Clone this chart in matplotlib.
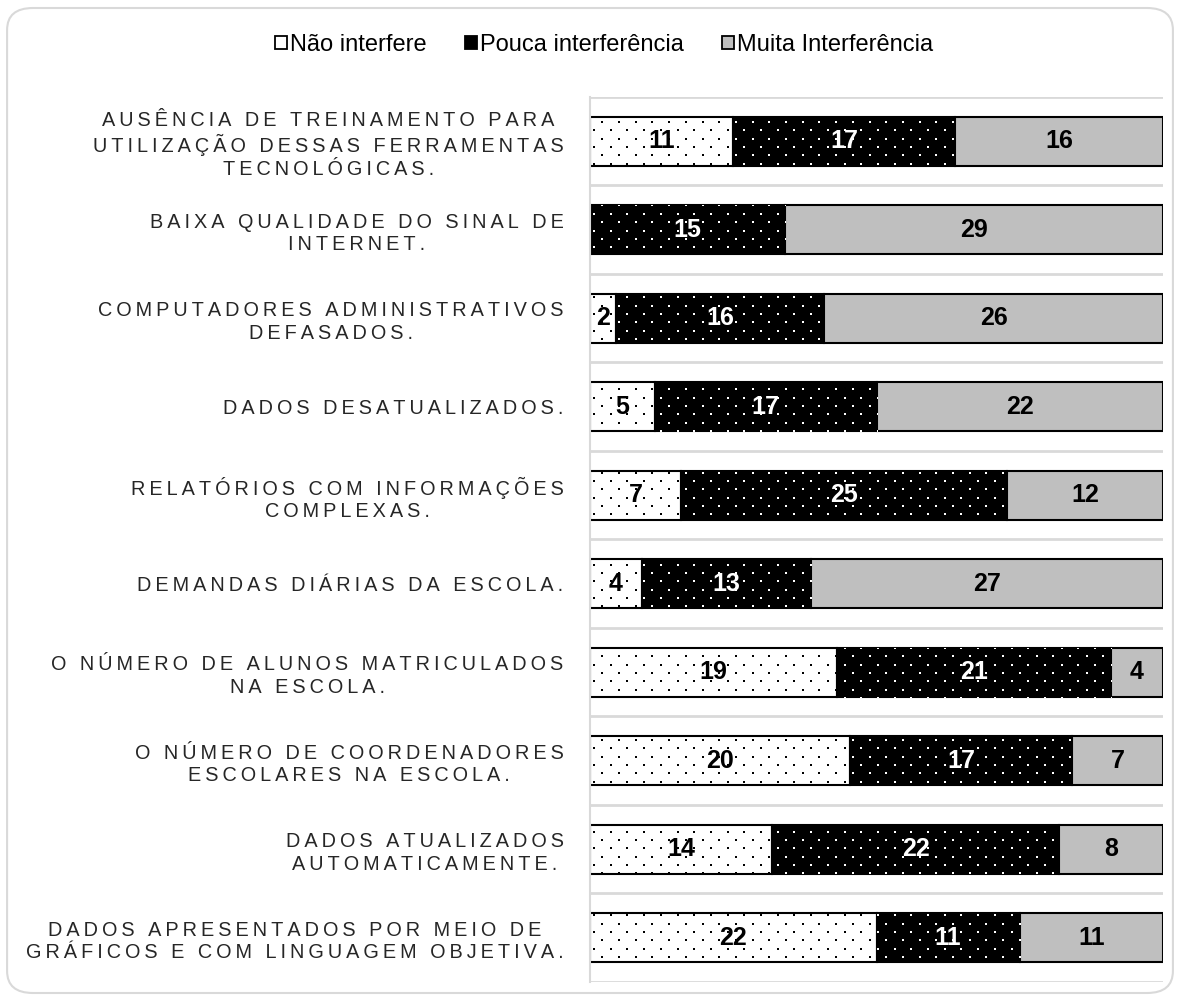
import numpy as np
import matplotlib.pyplot as plt
from matplotlib.patches import Patch, FancyBboxPatch

plt.rcParams['font.family'] = ['Liberation Sans', 'DejaVu Sans']

categorias = [
    'AUSÊNCIA DE TREINAMENTO PARA\nUTILIZAÇÃO DESSAS FERRAMENTAS\nTECNOLÓGICAS.',
    'BAIXA QUALIDADE DO SINAL DE\nINTERNET.',
    'COMPUTADORES ADMINISTRATIVOS\nDEFASADOS.',
    'DADOS DESATUALIZADOS.',
    'RELATÓRIOS COM INFORMAÇÕES\nCOMPLEXAS.',
    'DEMANDAS DIÁRIAS DA ESCOLA.',
    'O NÚMERO DE ALUNOS MATRICULADOS\nNA ESCOLA.',
    'O NÚMERO DE COORDENADORES\nESCOLARES NA ESCOLA.',
    'DADOS ATUALIZADOS\nAUTOMATICAMENTE.',
    'DADOS APRESENTADOS POR MEIO DE\nGRÁFICOS E COM LINGUAGEM OBJETIVA.',
]
nao_interfere = [11, 0, 2, 5, 7, 4, 19, 20, 14, 22]
pouca = [17, 15, 16, 17, 25, 13, 21, 17, 22, 11]
muita = [16, 29, 26, 22, 12, 27, 4, 7, 8, 11]
series = ['Não interfere', 'Pouca interferência', 'Muita Interferência']


def espacar(txt):
    # simula o espaçamento entre letras
    return '\n'.join('\u2009'.join(linha) for linha in txt.split('\n'))


fig = plt.figure(figsize=(11.8, 10), dpi=100)
borda = FancyBboxPatch((0.006, 0.007), 0.988, 0.985, boxstyle='round,pad=0,rounding_size=0.022',
                       transform=fig.transFigure, facecolor='none', edgecolor='#d9d9d9', lw=1.5,
                       zorder=-1)
fig.patches.append(borda)

ax = fig.add_axes([0.5, 0.018, 0.4856, 0.885])
y = np.arange(len(categorias))
h = 0.55

# textura pontilhada (pontos a cada ~17px, linhas alternadas a ~8px)
larg_px, alt_px = 0.4856 * 1180, 0.885 * 1000
pts = []
for i, yy in enumerate(np.arange(0, alt_px, 8.35)):
    xx = np.arange(4 + (8.35 if i % 2 else 0), larg_px, 16.7)
    pts += [(x / larg_px, yy / alt_px) for x in xx]
pts = np.array(pts)

esq = np.zeros(len(categorias))
estilos = [('white', 'black'), ('black', 'white'), ('#bfbfbf', None)]
cores_txt = ['black', 'white', 'black']
for vals, (fc, cor_ponto), ct in zip([nao_interfere, pouca, muita], estilos, cores_txt):
    vals = np.array(vals)
    barras = ax.barh(y, vals, left=esq, height=h, color=fc, edgecolor='black', lw=1.5, zorder=2)
    if cor_ponto:
        for b in barras:
            if b.get_width() > 0:
                sc = ax.scatter(pts[:, 0], pts[:, 1], s=2.2, marker='s', color=cor_ponto,
                                linewidths=0, transform=ax.transAxes, zorder=2.5)
                sc.set_clip_path(b)
    for yi, v, l in zip(y, vals, esq):
        if v > 0:
            ax.text(l + v / 2, yi, str(v), ha='center', va='center', fontsize=18,
                    fontweight='bold', color=ct, zorder=3)
    esq += vals

ax.set_xlim(0, 44)
ax.set_ylim(len(categorias) - 0.5, -0.5)
for b in np.arange(-0.5, len(categorias), 1):
    ax.axhline(b, color='#d9d9d9', lw=2, zorder=0)
ax.set_xticks([])
ax.set_yticks(y)
ax.set_yticklabels([espacar(c) for c in categorias], fontsize=14.3, color='#262626',
                   linespacing=1.22, multialignment='center')
ax.tick_params(axis='y', length=0, pad=19)
for s in ['top', 'right', 'bottom']:
    ax.spines[s].set_visible(False)
ax.spines['left'].set_color('#d9d9d9')
ax.spines['left'].set_linewidth(1.5)

handles = [Patch(facecolor='white', edgecolor='black', lw=1.3),
           Patch(facecolor='black', edgecolor='black', lw=1.3),
           Patch(facecolor='#bfbfbf', edgecolor='black', lw=1.3)]
fig.legend(handles, series, loc='center', bbox_to_anchor=(0.512, 0.955), ncol=3, frameon=False,
           fontsize=17, handlelength=0.5, handleheight=0.5, handletextpad=0.15, columnspacing=1.6)

fig.savefig('out.png', dpi=100)
